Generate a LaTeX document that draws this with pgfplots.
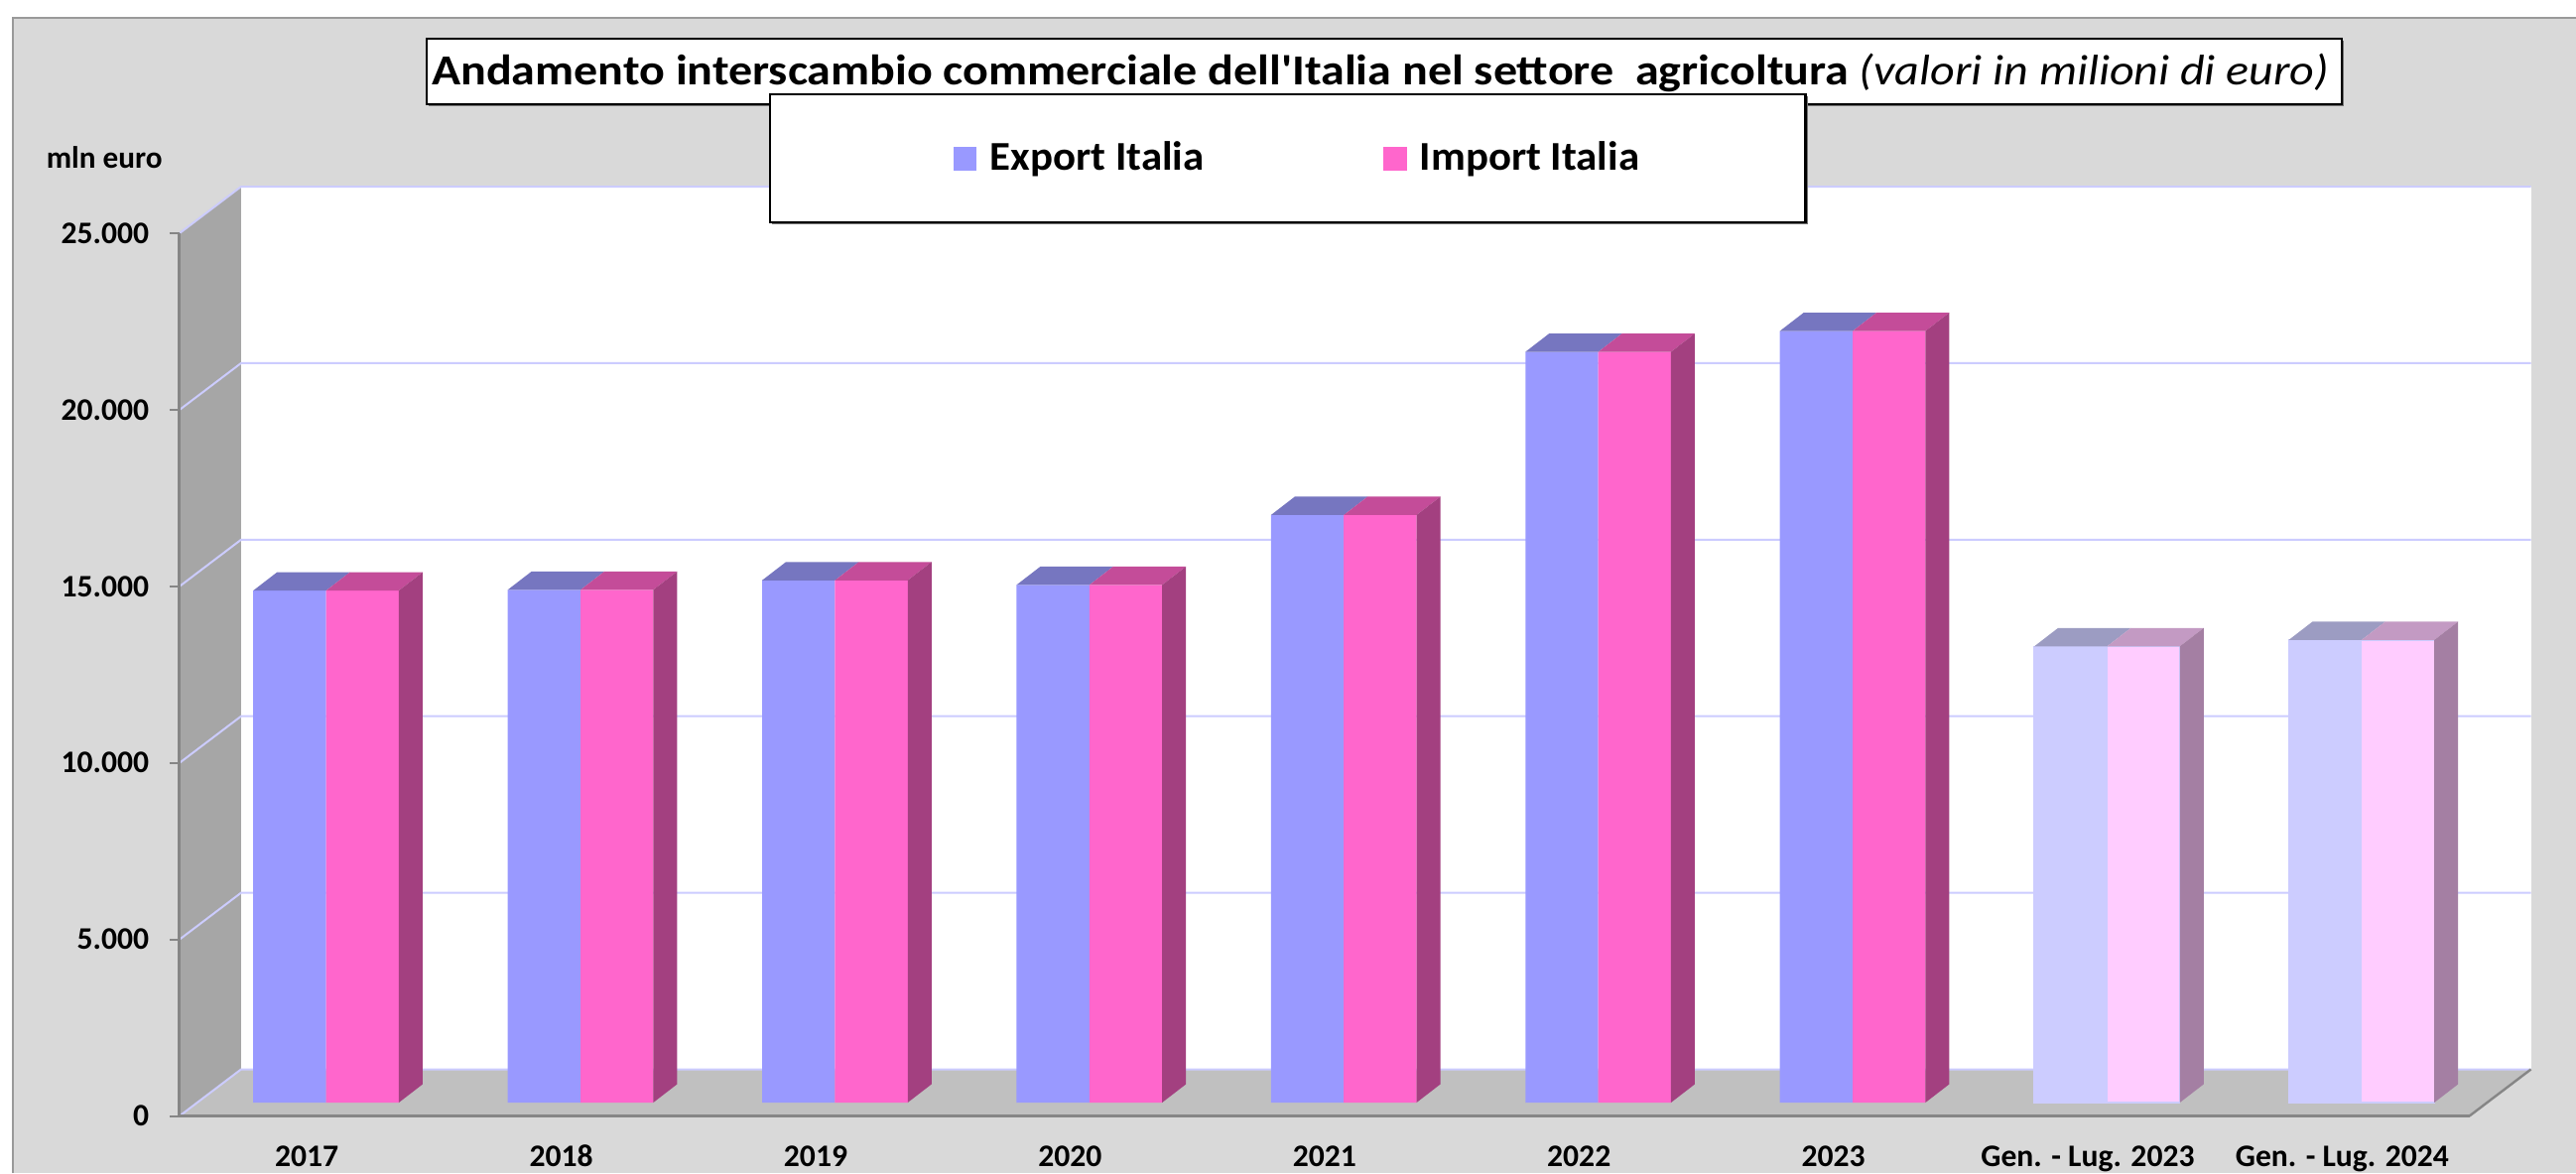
\documentclass[border=0pt]{standalone}
\usepackage{graphicx}
\usepackage{pgfplots}
\pgfplotsset{compat=1.18}
\usepackage{pgfplotstable}
\usepackage{fontspec}
\setmainfont{Carlito}
\definecolor{chartbg}{HTML}{D9D9D9}
\definecolor{sidewall}{HTML}{A6A6A6}
\definecolor{floorc}{HTML}{C0C0C0}
\definecolor{gridc}{HTML}{CCCCFF}
\definecolor{axisc}{HTML}{868686}
\definecolor{expF}{HTML}{9999FF}
\definecolor{expT}{HTML}{7676C0}
\definecolor{impF}{HTML}{FF66CC}
\definecolor{impT}{HTML}{C44C99}
\definecolor{impS}{HTML}{A34080}
\definecolor{expFL}{HTML}{CCCCFF}
\definecolor{expTL}{HTML}{9C9CC2}
\definecolor{impFL}{HTML}{FFCCFF}
\definecolor{impTL}{HTML}{C39AC3}
\definecolor{impSL}{HTML}{A47FA3}

% values in thousands of million euro (mln euro / 1000)
\pgfplotstableread{
x exp imp
0 14.50 14.50
1 14.52 14.52
2 14.79 14.79
3 14.66 14.66
4 16.64 16.64
5 21.26 21.26
6 21.85 21.85
7 12.92 12.92
8 13.10 13.10
}\datatable

% 3D faces (top of both bars, right side of the import bar) built from the table values
\newcommand\barfaces[4]{% #1 row, #2 exp top colour, #3 imp top colour, #4 side colour
  \pgfplotstablegetelem{#1}{exp}\of\datatable \let\ve\pgfplotsretval
  \pgfplotstablegetelem{#1}{imp}\of\datatable \let\vi\pgfplotsretval
  \pgfmathsetmacro\veT{\ve+0.52}%
  \pgfmathsetmacro\viT{\vi+0.52}%
  \pgfmathsetmacro\xa{#1-0.2861}%
  \pgfmathsetmacro\xb{#1-0.1925}%
  \pgfmathsetmacro\xc{#1+0.0936}%
  \pgfmathsetmacro\xd{#1+0.2861}%
  \pgfmathsetmacro\xe{#1+0.3797}%
  \addplot[fill=#2, draw=none] coordinates {(\xa,\ve) (#1,\ve) (\xc,\veT) (\xb,\veT)} -- cycle;
  \addplot[fill=#3, draw=none] coordinates {(#1,\vi) (\xd,\vi) (\xe,\viT) (\xc,\viT)} -- cycle;
  \addplot[fill=#4, draw=none] coordinates {(\xd,0) (\xe,0.52) (\xe,\viT) (\xd,\vi)} -- cycle;
}

\begin{document}
\begin{tikzpicture}
\path[use as bounding box] (0,0) rectangle (649pt,295.5pt);
\fill[white] (0,0) rectangle (649pt,295.5pt);
\fill[chartbg] (3.25pt,0) rectangle (649pt,291pt);
\draw[black!40, line width=0.5pt] (3.25pt,0) -- (3.25pt,291pt) -- (649pt,291pt);

\begin{axis}[
  at={(45.25pt,14.375pt)}, anchor=south west,
  x=64.1pt, y=8.895pt,
  xmin=-0.5, xmax=8.5, ymin=0, ymax=25,
  clip=false, axis on top,
  axis x line*=bottom, axis y line*=left,
  axis line style={draw=axisc, line width=0.75pt, -},
  xtick={0,...,8},
  xticklabels={2017,2018,2019,2020,2021,2022,2023,{Gen. - Lug. 2023},{Gen. - Lug. 2024}},
  x tick style={draw=none},
  ytick={0,5,...,25},
  yticklabels={0,5.000,10.000,15.000,20.000,25.000},
  y tick style={draw=axisc, line width=0.5pt},
  tick align=outside, major tick length=2.5pt,
  ticklabel style={font=\fontsize{7.9}{9}\selectfont\bfseries, inner sep=0pt},
  xticklabel style={anchor=base, yshift=-10.3pt},
  yticklabel style={anchor=east, xshift=-5pt},
]
% side wall
\addplot[fill=sidewall, draw=none] coordinates {(-0.5,0) (-0.2582,1.321) (-0.2582,26.321) (-0.5,25)} -- cycle;
% back wall
\addplot[fill=white, draw=none] coordinates {(-0.2582,1.321) (8.7418,1.321) (8.7418,26.321) (-0.2582,26.321)} -- cycle;
% floor
\addplot[fill=floorc, draw=none] coordinates {(-0.5,0) (8.5,0) (8.7418,1.321) (-0.2582,1.321)} -- cycle;
% gridlines on side and back walls
\addplot[draw=gridc, line width=0.5pt] coordinates {(-0.5,0) (-0.2582,1.321) (8.7418,1.321)};
\addplot[draw=gridc, line width=0.5pt] coordinates {(-0.5,5) (-0.2582,6.321) (8.7418,6.321)};
\addplot[draw=gridc, line width=0.5pt] coordinates {(-0.5,10) (-0.2582,11.321) (8.7418,11.321)};
\addplot[draw=gridc, line width=0.5pt] coordinates {(-0.5,15) (-0.2582,16.321) (8.7418,16.321)};
\addplot[draw=gridc, line width=0.5pt] coordinates {(-0.5,20) (-0.2582,21.321) (8.7418,21.321)};
\addplot[draw=gridc, line width=0.5pt] coordinates {(-0.5,25) (-0.2582,26.321) (8.7418,26.321)};
\addplot[draw=axisc, line width=0.6pt] coordinates {(8.5,0) (8.7418,1.321)};
\end{axis}

\begin{axis}[
  at={(50.1pt,17.75pt)}, anchor=south west,
  x=64.1pt, y=8.895pt,
  xmin=-0.5, xmax=8.5, ymin=0, ymax=25,
  clip=false, hide axis,
]
\addplot[ybar, bar width=18.34pt, bar shift=-9.17pt, fill=expF, draw=none,
  restrict x to domain=0:6] table[x=x,y=exp]{\datatable};
\addplot[ybar, bar width=18.34pt, bar shift=9.17pt, fill=impF, draw=none,
  restrict x to domain=0:6] table[x=x,y=imp]{\datatable};
\addplot[ybar, bar width=18.34pt, bar shift=-9.17pt, fill=expFL, draw=gridc, line width=0.3pt,
  restrict x to domain=7:8] table[x=x,y=exp]{\datatable};
\addplot[ybar, bar width=18.34pt, bar shift=9.17pt, fill=impFL, draw=gridc, line width=0.3pt,
  restrict x to domain=7:8] table[x=x,y=imp]{\datatable};
\pgfplotsinvokeforeach{0,...,6}{\barfaces{#1}{expT}{impT}{impS}}
\pgfplotsinvokeforeach{7,8}{\barfaces{#1}{expTL}{impTL}{impSL}}
\end{axis}

% title box
\fill[black!55] (108pt,268.75pt) rectangle (590.5pt,285.2pt);
\draw[fill=white, draw=black, line width=0.6pt] (107.5pt,269.25pt) rectangle (590pt,285.7pt);
\node[anchor=base west, inner sep=0pt] at (108.6pt,274.25pt)
  {\scalebox{1.16}[1.04]{\fontsize{10.35}{12}\selectfont\bfseries Andamento interscambio commerciale dell\textquotesingle Italia nel settore\ \ agricoltura \mdseries\itshape (valori in milioni di euro)}};

% legend box
\fill[black!55] (194.45pt,239pt) rectangle (455.4pt,271.25pt);
\draw[fill=white, draw=black, line width=0.6pt] (193.95pt,239.5pt) rectangle (454.9pt,271.75pt);
\fill[expF] (240.2pt,252.6pt) rectangle (246.1pt,258.6pt);
\node[anchor=base west, inner sep=0pt] at (249.25pt,252.6pt) {\scalebox{1.04}[1]{\fontsize{10.3}{12}\selectfont\bfseries Export Italia}};
\fill[impF] (348.4pt,252.6pt) rectangle (354.4pt,258.6pt);
\node[anchor=base west, inner sep=0pt] at (357.5pt,252.6pt) {\scalebox{1.04}[1]{\fontsize{10.3}{12}\selectfont\bfseries Import Italia}};

\node[anchor=base west, inner sep=0pt] at (11.5pt,253.25pt) {\fontsize{7.8}{9}\selectfont\bfseries mln euro};
\end{tikzpicture}
\end{document}
